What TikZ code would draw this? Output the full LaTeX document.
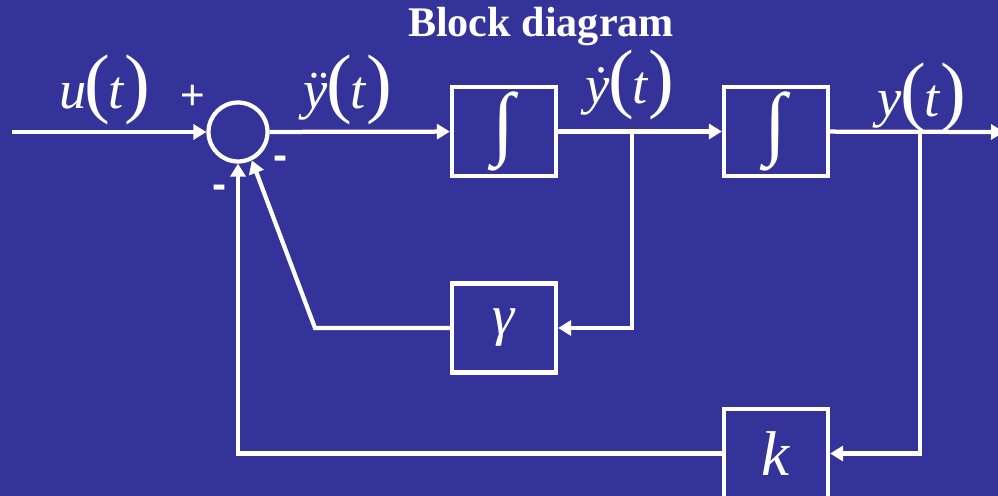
\documentclass[tikz,border=0pt]{standalone}
\usepackage{fontspec}
\setmainfont{Liberation Serif}
\newfontfamily\signfont{Liberation Sans}
\usetikzlibrary{arrows.meta}
\definecolor{slideblue}{RGB}{51,51,153}

% signal name with tall parentheses round the t
\newcommand{\sig}[1]{\textit{#1}{\fontsize{44}{44}\selectfont\kern-1pt(\kern-1pt}\textit{t}{\fontsize{44}{44}\selectfont)}}

\tikzset{
  block/.style={draw=white, line width=0.085cm, minimum width=2.08cm, minimum height=1.78cm, inner sep=0pt, font=\fontsize{36}{36}\selectfont},
  sumpt/.style={circle, draw=white, line width=0.085cm, minimum size=1.18cm, inner sep=0pt},
  wire/.style={white, line width=0.085cm},
  feed/.style={wire, -{Triangle[length=0.26cm,width=0.3cm]}},
  lbl/.style={font=\fontsize{31}{31}\selectfont, inner sep=0pt},
  pm/.style={font=\signfont\fontsize{24}{24}\selectfont, inner sep=0pt},
}

\begin{document}
\begin{tikzpicture}[x=0.02cm,y=-0.02cm,white]
\fill[slideblue] (0,0) rectangle (998,496);
\useasboundingbox (0,0) rectangle (998,496);

\node[font=\bfseries\fontsize{24}{24}\selectfont] (title) at (541,27) {Block diagram};

% blocks
\node[block] (int1) at (504,131.5) {\fontsize{46}{46}\selectfont ∫};
\node[block] (int2) at (776,131.5) {\fontsize{46}{46}\selectfont ∫};
\node[block] (gain) at (504,328) {\fontsize{32}{32}\selectfont\textit{γ}};
\node[block] (kgain) at (776,453.5) {\textit{k}};
\node[sumpt] (sum) at (238,132) {};

% corners and ends of the wires
\coordinate (in) at (12,132);
\coordinate (out) at (1004,132);
\coordinate (vbr) at (632,132);
\coordinate (ybr) at (920,132);
\coordinate (gcorner) at (315,328);
\coordinate (kcorner) at (238,453.5);

% forward path
\draw[feed] (in) -- (sum);
\draw[feed] (sum) -- (int1);
\draw[feed] (int1) -- (int2);
\draw[feed] (int2) -- (out);

% feedback
\draw[feed] (vbr) |- (gain);
\draw[feed] (gain) -- (gcorner) -- (sum.-64);
\draw[feed] (ybr) |- (kgain);
\draw[feed] (kgain) -- (kcorner) -- (sum);

% signals
\node[lbl] (u) at (105,90) {\sig{u}};
\node[lbl] (yddot) at (348,90) {\sig{\"y}};
\node[lbl] (ydot) at (630,85) {\sig{\.y}};
\node[lbl] (y) at (922,98) {\sig{y}};

% signs at the summing point
\node[pm] (plus) at (193,97) {+};
\node[pm,font=\signfont\bfseries\fontsize{24}{24}\selectfont] (mright) at (281,163) {-};
\node[pm,font=\signfont\bfseries\fontsize{24}{24}\selectfont] (mleft) at (220,192) {-};
\end{tikzpicture}
\end{document}
